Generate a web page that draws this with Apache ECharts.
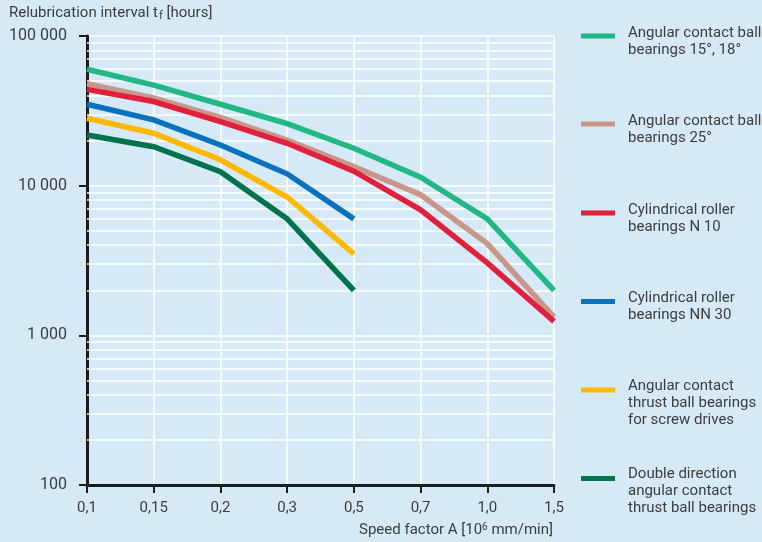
<!DOCTYPE html>
<html><head><meta charset="utf-8">
<script src="https://cdn.jsdelivr.net/npm/echarts@6/dist/echarts.min.js"></script>
<style>html,body{margin:0;padding:0;background:#d5e9f7;}#c{width:762px;height:542px;}</style>
</head><body><div id="c"></div>
<script>
const categories = ['0,1','0,15','0,2','0,3','0,5','0,7','1,0','1,5'];
const seriesNames = [
  'Angular contact ball\nbearings 15°, 18°',
  'Angular contact ball\nbearings 25°',
  'Cylindrical roller\nbearings N 10',
  'Cylindrical roller\nbearings NN 30',
  'Angular contact\nthrust ball bearings\nfor screw drives',
  'Double direction\nangular contact\nthrust ball bearings'
];
const acbb15 = [60000, 47000, 35000, 26000, 17800, 11400, 6000, 2000];
const acbb25 = [48000, 38500, 28600, 20200, 13400, 8700, 4100, 1330];
const crbN10 = [44000, 36500, 26800, 19200, 12500, 6900, 3050, 1240];
const crbNN30 = [35000, 27500, 18700, 12000, 6000];
const actbbScrew = [28200, 22400, 14900, 8400, 3500];
const ddacbb = [21800, 18200, 12400, 6000, 2000];
const minorGrid = [200,300,400,500,600,700,800,900,2000,3000,4000,5000,6000,7000,8000,9000,20000,30000,40000,50000,60000,70000,80000,90000];

const colors = ['#22b883', '#c9968a', '#e0203d', '#0a71bd', '#ffb900', '#00734a'];
const values = [acbb15, acbb25, crbN10, crbNN30, actbbScrew, ddacbb];
const legendY = [36, 124, 213, 301.5, 390, 478.5];
const textColor = '#3d3d3d';
const font = 'Roboto';

const series = values.map((v, i) => ({
  name: seriesNames[i], type: 'line', data: v, color: colors[i],
  showSymbol: false, symbol: 'none', z: 3,
  lineStyle: { width: 5.5, color: colors[i], cap: 'butt', join: 'miter' }
}));
series.push({
  name: 'grid', type: 'line', data: [], z: 1, silent: true,
  markLine: {
    z: 1, zlevel: 0,
    silent: true, symbol: 'none', animation: false,
    label: { show: false },
    lineStyle: { color: '#ffffff', width: 1.5, type: 'solid' },
    data: minorGrid.map(v => ({ yAxis: v }))
  }
});

const legends = seriesNames.map((n, i) => {
  const lines = n.split('\n').length;
  const spacer = lines === 3 ? 26 : 11;
  const h = lines * 17 + spacer;
  return {
    orient: 'vertical', left: 581, top: legendY[i] - h / 2, padding: 0,
    itemWidth: 34, itemHeight: 5, icon: 'rect', selectedMode: false,
    data: [n],
    formatter: name => '{s| }\n' + name.split('\n').map(l => '{t|' + l + '}').join('\n'),
    textStyle: {
      color: textColor, fontFamily: font, fontSize: 15,
      rich: {
        s: { fontSize: 4, lineHeight: spacer, height: spacer },
        t: { color: textColor, fontFamily: font, fontSize: 15, lineHeight: 17, padding: [0, 0, 0, 8] }
      }
    }
  };
});

const chart = echarts.init(document.getElementById('c'), null, { renderer: 'canvas' });
chart.setOption({
  backgroundColor: '#d5e9f7',
  animation: false,
  title: [
    {
      left: 9, top: 4, padding: 0,
      text: '{a|Relubrication interval t}{s|f}{a| [hours]}',
      textStyle: { fontWeight: 'normal', rich: {
        a: { fontFamily: font, fontSize: 15, fontWeight: 'normal', color: textColor, lineHeight: 18 },
        s: { fontFamily: font, fontSize: 11, fontWeight: 'normal', color: textColor, padding: [7, 0, 0, 1], lineHeight: 18 }
      } }
    },
    {
      right: 209, top: 521, padding: 0,
      text: '{a|Speed factor A [10}{p|6}{a| mm/min]}',
      textStyle: { fontWeight: 'normal', rich: {
        a: { fontFamily: font, fontSize: 15, fontWeight: 'normal', color: textColor, lineHeight: 18 },
        p: { fontFamily: font, fontSize: 10, fontWeight: 'normal', color: textColor, padding: [0, 0, 6, 0], lineHeight: 18 }
      } }
    }
  ],
  legend: legends,
  grid: { left: 87, right: 208, top: 36, bottom: 57, containLabel: false },
  xAxis: {
    type: 'category', data: categories, boundaryGap: false,
    axisLine: { show: true, lineStyle: { color: '#1c1c1c', width: 3 } },
    axisTick: { show: true, length: 8, lineStyle: { color: '#1c1c1c', width: 2 } },
    axisLabel: { color: textColor, fontFamily: font, fontSize: 15, margin: 16 },
    splitLine: { show: true, lineStyle: { color: '#ffffff', width: 1.5 } }
  },
  yAxis: {
    type: 'log', logBase: 10, min: 100, max: 100000,
    axisLine: { show: true, onZero: false, lineStyle: { color: '#1c1c1c', width: 3 } },
    axisTick: { show: true, length: 8, lineStyle: { color: '#1c1c1c', width: 2 } },
    axisLabel: {
      color: textColor, fontFamily: font, fontSize: 16, margin: 20,
      formatter: v => String(Math.round(v)).replace(/\B(?=(\d{3})+(?!\d))/g, ' ')
    },
    splitLine: { show: true, lineStyle: { color: '#ffffff', width: 1.5 } }
  },
  series: series
});
</script>
</body></html>
